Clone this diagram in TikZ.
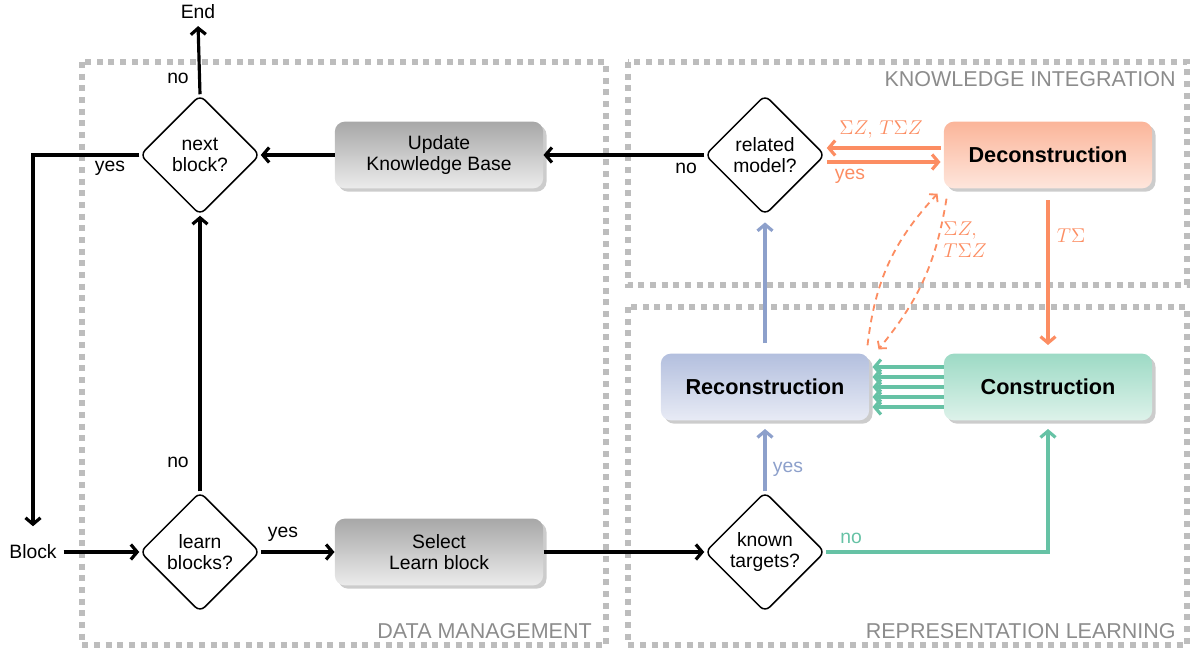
\documentclass[tikz,border=0pt]{standalone}
\usepackage[no-math]{fontspec}
\setmainfont{Liberation Sans}
\usetikzlibrary{shapes.geometric,arrows.meta,shadows,calc}
\definecolor{corange}{HTML}{FC8D62}
\definecolor{cblue}{HTML}{8DA0CB}
\definecolor{cgreen}{HTML}{66C2A5}
\definecolor{regiongray}{HTML}{BDBDBD}
\definecolor{labelgray}{HTML}{8C8C8C}
\definecolor{gtop}{HTML}{A8A8A8}
\definecolor{gbot}{HTML}{EBEBEB}
\definecolor{otop}{HTML}{FBB59A}
\definecolor{obot}{HTML}{FEE6DC}
\definecolor{btop}{HTML}{B3BFDE}
\definecolor{bbot}{HTML}{E8EBF5}
\definecolor{ntop}{HTML}{9DDAC5}
\definecolor{nbot}{HTML}{DDF2EA}
\tikzset{
  dmd/.style={diamond, draw, line width=0.9pt, rounded corners=4pt, fill=white,
    minimum width=72pt, minimum height=72pt, inner sep=-4pt, align=center,
    font=\fontsize{11.6}{13}\selectfont},
  pbox/.style={rectangle, rounded corners=6pt, minimum width=125pt, minimum height=40pt,
    align=center, drop shadow={shadow xshift=2pt,shadow yshift=-2pt,opacity=0.4}},
  graybox/.style={pbox, top color=gtop, bottom color=gbot, font=\fontsize{11.6}{13}\selectfont},
  boldbox/.style={pbox, font=\fontsize{13}{15}\selectfont\bfseries},
  region/.style={draw=regiongray, line width=3.4pt, dash pattern=on 3.6pt off 3.4pt},
  regionlabel/.style={text=labelgray, font=\fontsize{12.9}{14}\selectfont, inner sep=0pt},
  flow/.style={line width=1.9pt, -{Straight Barb[length=3.8pt,width=9pt]}},
  dflow/.style={line width=1.1pt, dash pattern=on 4pt off 3pt, -{Straight Barb[length=3pt,width=7pt]}},
  lbl/.style={font=\fontsize{11.6}{13.5}\selectfont, inner sep=1pt},
}
\begin{document}
\begin{tikzpicture}[x=0.6pt,y=-0.6pt]
\useasboundingbox (0,0) rectangle (1194,656);
% regions
\draw[region] (82,62) rectangle (606,645);
\draw[region] (628,62) rectangle (1187,285);
\draw[region] (628,307) rectangle (1187,645);
\node[regionlabel, anchor=east] (dmlab) at (592,631) {DATA MANAGEMENT};
\node[regionlabel, anchor=east] (kilab) at (1176,79) {KNOWLEDGE INTEGRATION};
\node[regionlabel, anchor=east] (rllab) at (1176,631) {REPRESENTATION LEARNING};
% nodes
\node[dmd] (nb) at (200,155) {next\\block?};
\node[dmd] (lb) at (200,552) {learn\\blocks?};
\node[dmd] (rm) at (765,155) {related\\model?};
\node[dmd] (kt) at (765,552) {known\\targets?};
\node[graybox] (upd) at (439,155) {Update\\Knowledge Base};
\node[graybox] (sel) at (439,552) {Select\\Learn block};
\node[boldbox, top color=otop, bottom color=obot] (dec) at (1048,155) {Deconstruction};
\node[boldbox, top color=btop, bottom color=bbot] (rec) at (765,387) {Reconstruction};
\node[boldbox, top color=ntop, bottom color=nbot] (con) at (1048,387) {Construction};
\node[lbl, inner sep=2pt] (endn) at (198,12) {End};
\node[lbl, inner sep=2pt] (blk) at (33,552) {Block};
% black connectors
\draw[flow, shorten >=2pt] (nb.north) -- (endn.south);
\node[lbl] (nolab1) at (178,78) {no};
\draw[flow] (upd.west) -- (nb.east);
\draw[flow] (rm.west) -- (upd.east);
\node[lbl] (nolab2) at (686,168) {no};
\draw[flow, shorten >=9pt] (nb.west) -| (blk.north);
\node[lbl] (yeslab1) at (110,168) {yes};
\draw[flow, shorten <=2pt] (blk.east) -- (lb.west);
\draw[flow] (lb.east) -- (sel.west);
\node[lbl] (yeslab2) at (283,534) {yes};
\draw[flow] (lb.north) -- (nb.south);
\node[lbl] (nolab3) at (178,462) {no};
\draw[flow] (sel.east) -- (kt.west);
% blue
\draw[flow, cblue, shorten >=5pt] (kt.north) -- (rec.south);
\node[lbl, text=cblue] (yeslab3) at (788,469) {yes};
\draw[flow, cblue, shorten <=6pt, shorten >=4pt] (rec.north) -- (rm.south);
% green
\draw[flow, cgreen, shorten >=5pt] (kt.east) -| (con.south);
\node[lbl, text=cgreen] (nolab4) at (851,538) {no};
\foreach \d in {-20,-10,0,10,20}
  \draw[flow, cgreen] ($(con.west)+(0,\d)$) -- ($(rec.east)+(3,\d)$);
% orange
\draw[flow, corange] ($(dec.west)+(-3,-7)$) -- ($(rm.east)+(1,-7)$);
\draw[flow, corange] ($(rm.east)+(1,7)$) -- ($(dec.west)+(-3,7)$);
\node[lbl, text=corange, font=\fontsize{12}{14}\selectfont] (sig1) at (881,130) {$\Sigma Z,\, T\Sigma Z$};
\node[lbl, text=corange] (yeslab4) at (850,176) {yes};
\draw[flow, corange, shorten <=7pt, shorten >=5pt] (dec.south) -- (con.north);
\node[lbl, text=corange, font=\fontsize{12}{14}\selectfont] (sig2) at (1071,236) {$T\Sigma$};
\draw[dflow, corange] ($(rec.north east)+(-2,-8)$) to[bend left=18] ($(dec.south west)+(-6,5)$);
\draw[dflow, corange] ($(dec.south west)+(3,10)$) to[bend left=15] ($(rec.north east)+(9,-4)$);
\node[lbl, text=corange, align=left, font=\fontsize{12}{13}\selectfont] (sig3) at (965,240) {$\Sigma Z,$\\$T\Sigma Z$};
\end{tikzpicture}
\end{document}
